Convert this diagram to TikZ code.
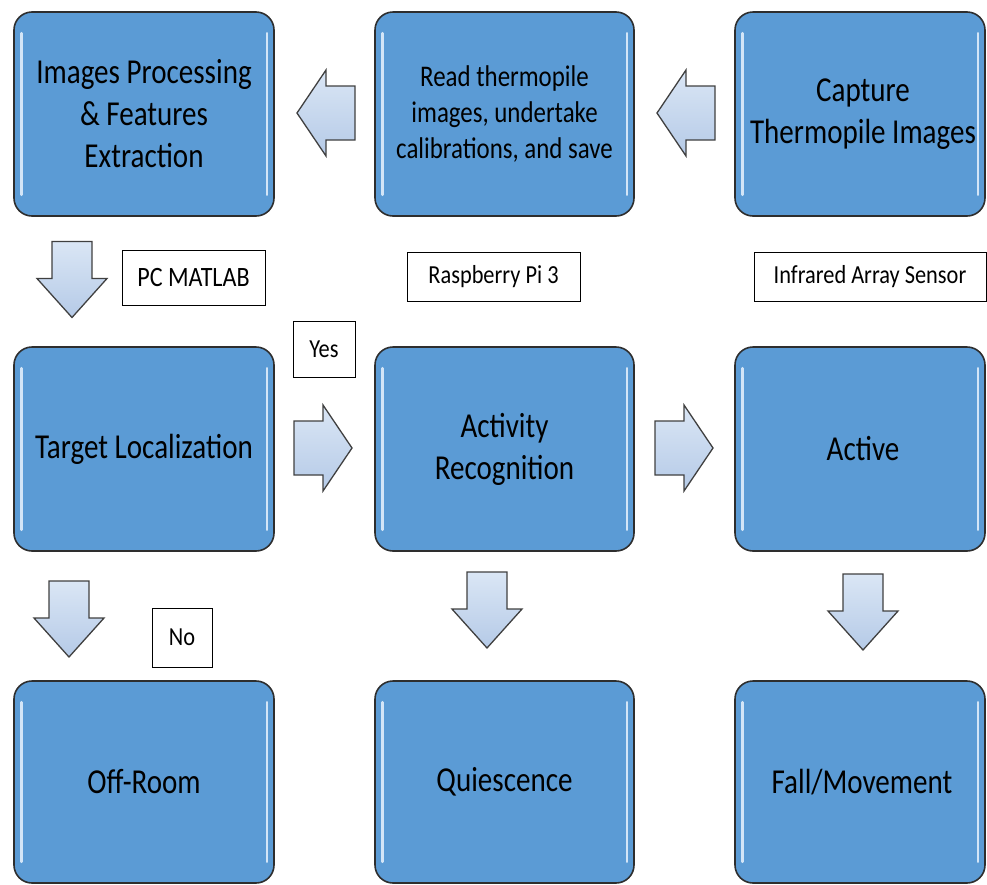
\documentclass[tikz,border=0pt]{standalone}
\usepackage{fontspec}
\setmainfont{Carlito}[FakeStretch=0.83]
\newfontfamily\lblfont{Carlito}[FakeStretch=0.86]
\usetikzlibrary{calc}
\definecolor{boxblue}{HTML}{5B9BD5}
\definecolor{boxedge}{HTML}{2E2E2E}
\definecolor{glint}{HTML}{D3E5F7}
\definecolor{arrtop}{HTML}{DAE6F5}
\definecolor{arrbot}{HTML}{B5CAE7}
\tikzset{
  x=1pt, y=-1pt,
  bbox/.style={draw=boxedge, line width=1.6pt, rounded corners=18pt, fill=boxblue,
    minimum width=260pt, minimum height=204pt, align=center, inner sep=0pt,
    text=black, font=\fontsize{35}{42}\selectfont},
  bboxsmall/.style={bbox, font=\fontsize{30}{36}\selectfont},
  lbl/.style={draw=black, line width=1pt, fill=white, inner sep=0pt, align=center,
    font=\lblfont\fontsize{26}{30}\selectfont},
  arrowshape/.style={draw=black!75, line width=1.3pt, top color=arrtop, bottom color=arrbot, line join=miter},
  harr/.pic={\path[arrowshape] (-29,-27) -- (0,-27) -- (0,-43) -- (29,0) -- (0,43) -- (0,27) -- (-29,27) -- cycle;},
  varr/.pic={\path[arrowshape] (-20,-38) -- (20,-38) -- (20,-1) -- (35,-1) -- (0,38) -- (-35,-1) -- (-20,-1) -- cycle;},
}
\newcommand\glints[1]{%
  \draw[glint, line width=2.6pt, line cap=round] ($(#1.north west)+(8,22)$) -- ($(#1.south west)+(8,-22)$);
  \draw[glint, line width=2.6pt, line cap=round] ($(#1.north east)+(-8,22)$) -- ($(#1.south east)+(-8,-22)$);}
\begin{document}
\begin{tikzpicture}
\useasboundingbox (0,0) rectangle (987,884);
% row 1
\node[bbox] (b1) at (144,114) {Images Processing\\\& Features\\Extraction};
\node[bboxsmall, minimum width=259pt] (b2) at (504.5,114) {Read thermopile\\images, undertake\\calibrations, and save};
\node[bbox, minimum width=250pt] (b3) at (860,114) {\hspace*{6pt}Capture\\\hspace*{6pt}Thermopile Images};
% row 2
\node[bbox] (b4) at (144,449) {Target Localization};
\node[bbox, minimum width=259pt] (b5) at (504.5,449) {Activity\\Recognition};
\node[bbox, minimum width=250pt] (b6) at (860,449) {\hspace*{6pt}Active};
% row 3
\node[bbox, minimum height=202pt] (b7) at (144,782) {Off-Room};
\node[bbox, minimum width=259pt, minimum height=202pt] (b8) at (504.5,782) {Quiescence};
\node[bbox, minimum width=250pt, minimum height=202pt] (b9) at (860,782) {\hspace*{4pt}Fall/Movement};
\foreach \b in {b1,b2,b3,b4,b5,b6,b7,b8,b9} {\glints{\b}}
% block arrows
\pic[rotate=180] (a1) at (326,113) {harr};
\pic[rotate=180] (a2) at (686,113) {harr};
\pic (a3) at (323,448) {harr};
\pic (a4) at (684,448) {harr};
\pic (a5) at (72,279.5) {varr};
\pic (a6) at (69,619) {varr};
\pic (a7) at (487,610) {varr};
\pic (a8) at (863,612) {varr};
% labels
\node[lbl, minimum width=143pt, minimum height=55pt, font=\lblfont\fontsize{28}{32}\selectfont] (l1) at (193.5,277.5) {PC MATLAB};
\node[lbl, minimum width=173pt, minimum height=49pt] (l2) at (493.5,276.5) {Raspberry Pi 3};
\node[lbl, minimum width=232pt, minimum height=49pt] (l3) at (870,276.5) {Infrared Array Sensor};
\node[lbl, minimum width=62pt, minimum height=56pt] (l4) at (324,349) {Yes};
\node[lbl, minimum width=60pt, minimum height=59pt] (l5) at (182,637.5) {No};
\end{tikzpicture}
\end{document}
